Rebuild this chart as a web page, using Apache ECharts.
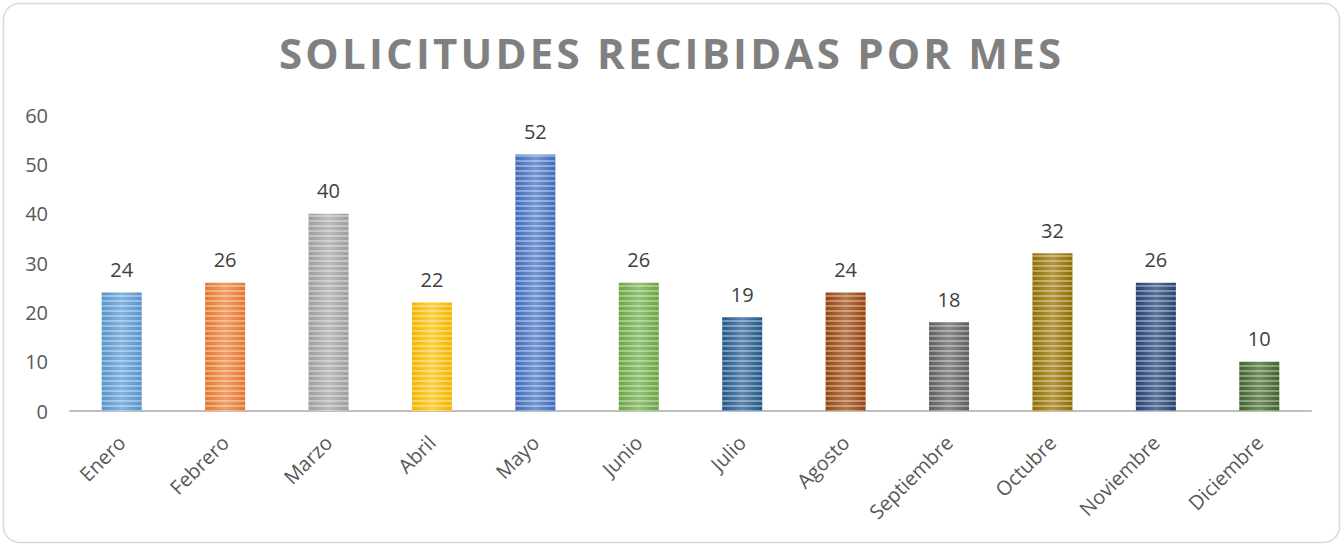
<!DOCTYPE html>
<html><head><meta charset="utf-8">
<script src="https://cdn.jsdelivr.net/npm/echarts@6/dist/echarts.min.js"></script>
<style>html,body{margin:0;padding:0;background:#fff}#c{width:1343px;height:546px}</style>
</head><body><div id="c"></div>
<script>
const titleText = 'SOLICITUDES RECIBIDAS POR MES';
const categories = ['Enero','Febrero','Marzo','Abril','Mayo','Junio','Julio','Agosto','Septiembre','Octubre','Noviembre','Diciembre'];
const values = [24,26,40,22,52,26,19,24,18,32,26,10];
const barColors = ['#5b9bd5','#ed7d31','#a5a5a5','#ffc000','#4472c4','#70ad47','#255e91','#9e480e','#636363','#997300','#264478','#43682b'];
const yTicks = [0,10,20,30,40,50,60];

function shade(hex, f){
  const n = parseInt(hex.slice(1),16);
  let r=(n>>16)&255,g=(n>>8)&255,b=n&255;
  if(f>0){r+= (255-r)*f; g+=(255-g)*f; b+=(255-b)*f;}
  else {r*=1+f; g*=1+f; b*=1+f;}
  return 'rgb('+Math.round(r)+','+Math.round(g)+','+Math.round(b)+')';
}

const chart = echarts.init(document.getElementById('c'), null, {renderer:'svg'});
chart.setOption({
  animation:false,
  title:{text:titleText,left:274,top:26,
    textStyle:{fontFamily:'Open Sans',fontWeight:'bold',fontSize:42,color:'#808080'}},
  graphic:[{type:'rect',shape:{x:3.5,y:3.5,width:1336,height:539,r:16},
    style:{fill:'none',stroke:'#d9d9d9',lineWidth:1.5},silent:true,z:-1}],
  grid:{left:70,right:32,top:115,bottom:135,containLabel:false},
  xAxis:{type:'category',data:categories,
    axisLine:{lineStyle:{color:'#bfbfbf',width:2}},axisTick:{show:false},
    axisLabel:{rotate:45,interval:0,margin:28,color:'#595959',fontSize:20,fontFamily:'Open Sans'}},
  yAxis:{type:'value',min:yTicks[0],max:yTicks[yTicks.length-1],interval:10,
    axisLine:{show:false},axisTick:{show:false},splitLine:{show:false},
    axisLabel:{margin:22,color:'#595959',fontSize:20,fontFamily:'Open Sans'}},
  series:[{type:'bar',barWidth:40,
    data:values.map((v,i)=>({value:v,itemStyle:{
      color:{type:'linear',x:0,y:0,x2:1,y2:0,colorStops:[
        {offset:0,color:shade(barColors[i],-0.05)},
        {offset:0.5,color:shade(barColors[i],0.25)},
        {offset:1,color:shade(barColors[i],-0.05)}]},
      decal:{symbol:'rect',symbolSize:1,dashArrayX:[1,0],dashArrayY:[2,3],color:'rgba(255,255,255,0.35)',rotation:0}
    }})),
    label:{show:true,position:'top',distance:13,color:'#404040',fontSize:20,fontFamily:'Open Sans'}
  }]
});
function spaceTitle(){
  document.querySelectorAll('#c svg text').forEach(t=>{
    if(t.textContent===titleText){t.setAttribute('letter-spacing','3.2');t.style.letterSpacing='3.2px';}
  });
}
spaceTitle();
chart.on('finished', spaceTitle);
setTimeout(spaceTitle, 50);
</script></body></html>
